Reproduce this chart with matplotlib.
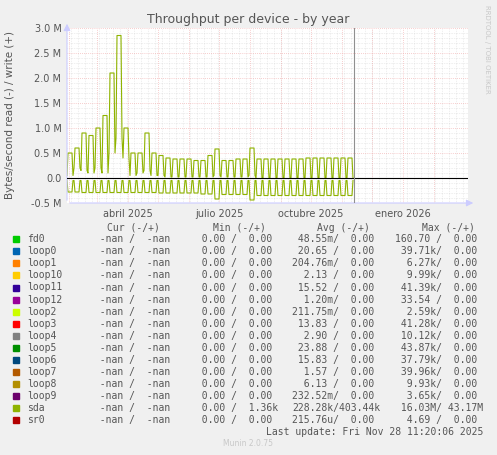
import datetime as dt
import matplotlib
matplotlib.use("Agg")
import matplotlib.pyplot as plt

# weekly sda write peaks / troughs and read troughs / peaks (M bytes/s), weeks from 2025-01-30
write_hi = [0.50, 0.60, 0.90, 0.85, 1.00, 1.25, 2.10, 2.85, 1.00, 0.50, 0.50, 0.90, 0.50, 0.45,
            0.40, 0.38, 0.38, 0.38, 0.35, 0.35, 0.45, 0.58, 0.35, 0.35, 0.38, 0.38, 0.60, 0.38,
            0.38, 0.38, 0.38, 0.38, 0.38, 0.38, 0.40, 0.40, 0.40, 0.40, 0.40, 0.40, 0.40]
write_lo = [0.05, 0.20, 0.15, 0.10, 0.20, 0.10, 0.50, 0.80, 0.40, 0.05, 0.10, 0.15, 0.05, 0.05,
            0.02, 0.02, 0.02, 0.02, 0.02, 0.02, 0.02, 0.05, 0.02, 0.02, 0.02, 0.02, 0.05, 0.00,
            0.00, 0.00, 0.00, 0.00, 0.00, 0.00, 0.00, 0.00, 0.00, 0.00, 0.00, 0.00, 0.00]
read_lo = [-0.28, -0.28, -0.29, -0.29, -0.29, -0.29, -0.29, -0.29, -0.29, -0.29, -0.29, -0.29,
           -0.29, -0.30, -0.30, -0.30, -0.30, -0.30, -0.30, -0.32, -0.32, -0.42, -0.33, -0.33,
           -0.33, -0.33, -0.44, -0.35, -0.35, -0.35, -0.35, -0.35, -0.35, -0.35, -0.35, -0.35,
           -0.35, -0.35, -0.35, -0.35, -0.35]
read_hi = [-0.05] * 41

start = dt.datetime(2025, 1, 30)
now = dt.datetime(2025, 11, 13)
x_min, x_max = dt.datetime(2025, 1, 30), dt.datetime(2026, 3, 7)
tick_dates = [dt.datetime(2025, 4, 1), dt.datetime(2025, 7, 1), dt.datetime(2025, 10, 1), dt.datetime(2026, 1, 1)]
tick_labels = ["abril 2025", "julio 2025", "octubre 2025", "enero 2026"]

legend_rows = [
    ("fd0", "#00cc00", "0.00", "0.00", "48.55m", "0.00", "160.70", "0.00"),
    ("loop0", "#0066b3", "0.00", "0.00", "20.65", "0.00", "39.71k", "0.00"),
    ("loop1", "#ff8000", "0.00", "0.00", "204.76m", "0.00", "6.27k", "0.00"),
    ("loop10", "#ffcc00", "0.00", "0.00", "2.13", "0.00", "9.99k", "0.00"),
    ("loop11", "#330099", "0.00", "0.00", "15.52", "0.00", "41.39k", "0.00"),
    ("loop12", "#990099", "0.00", "0.00", "1.20m", "0.00", "33.54", "0.00"),
    ("loop2", "#ccff00", "0.00", "0.00", "211.75m", "0.00", "2.59k", "0.00"),
    ("loop3", "#ff0000", "0.00", "0.00", "13.83", "0.00", "41.28k", "0.00"),
    ("loop4", "#808080", "0.00", "0.00", "2.90", "0.00", "10.12k", "0.00"),
    ("loop5", "#008f00", "0.00", "0.00", "23.88", "0.00", "43.87k", "0.00"),
    ("loop6", "#00487d", "0.00", "0.00", "15.83", "0.00", "37.79k", "0.00"),
    ("loop7", "#b35a00", "0.00", "0.00", "1.57", "0.00", "39.96k", "0.00"),
    ("loop8", "#b38f00", "0.00", "0.00", "6.13", "0.00", "9.93k", "0.00"),
    ("loop9", "#6b006b", "0.00", "0.00", "232.52m", "0.00", "3.65k", "0.00"),
    ("sda", "#8fb300", "0.00", "1.36k", "228.28k", "403.44k", "16.03M", "43.17M"),
    ("sr0", "#b30000", "0.00", "0.00", "215.76u", "0.00", "4.69", "0.00"),
]

# build square-ish weekly waves
xs, wy, ry = [], [], []
for i in range(len(write_hi)):
    d = start + dt.timedelta(days=7 * i)
    for off, w, r in [(0, write_lo[i], read_hi[i]), (1, write_hi[i], read_lo[i]),
                      (5, write_hi[i], read_lo[i]), (6, write_lo[i], read_hi[i])]:
        xs.append(d + dt.timedelta(days=off))
        wy.append(w * 1e6)
        ry.append(r * 1e6)

W, H = 497, 455
fig = plt.figure(figsize=(W / 100, H / 100), dpi=100, facecolor="#f0f0f0")
ax = fig.add_axes([67 / W, 1 - 203 / H, (468 - 67) / W, (203 - 28) / H], facecolor="white")

# grid
for m in range(2, 15):
    y, mo = 2025 + (m - 1) // 12, (m - 1) % 12 + 1
    ax.axvline(dt.datetime(y, mo, 1), color="#f0a0a0", lw=0.5, ls=(0, (1, 2)), zorder=1)
wk = dt.datetime(2025, 2, 3)
while wk < x_max:
    ax.axvline(wk, color="#d0d0d0", lw=0.4, ls=(0, (1, 2)), zorder=0)
    wk += dt.timedelta(days=7)
for v in [-0.4, -0.3, -0.2, -0.1, 0.1, 0.2, 0.3, 0.4, 0.6, 0.7, 0.8, 0.9, 1.1, 1.2, 1.3, 1.4,
          1.6, 1.7, 1.8, 1.9, 2.1, 2.2, 2.3, 2.4, 2.6, 2.7, 2.8, 2.9]:
    ax.axhline(v * 1e6, color="#d0d0d0", lw=0.4, ls=(0, (1, 2)), zorder=0)
for v in [-0.5, 0.5, 1.0, 1.5, 2.0, 2.5, 3.0]:
    ax.axhline(v * 1e6, color="#f0a0a0", lw=0.5, ls=(0, (1, 2)), zorder=1)

ax.plot(xs, wy, color="#8fb300", lw=0.8, zorder=3)
ax.plot(xs, ry, color="#8fb300", lw=0.8, zorder=3)
ax.axhline(0, color="black", lw=0.8, zorder=4)
ax.axvline(now, color="#909090", lw=0.8, zorder=4)

ax.set_xlim(x_min, x_max)
ax.set_ylim(-0.5e6, 3.0e6)
ax.set_yticks([-0.5e6, 0, 0.5e6, 1.0e6, 1.5e6, 2.0e6, 2.5e6, 3.0e6])
ax.set_yticklabels(["-0.5 M", "0.0", "0.5 M", "1.0 M", "1.5 M", "2.0 M", "2.5 M", "3.0 M"])
ax.set_xticks(tick_dates)
ax.set_xticklabels(tick_labels)
ax.tick_params(length=0, labelsize=7, colors="#555555", pad=4)
for s in ax.spines.values():
    s.set_visible(False)
ax.annotate("", xy=(1.02, 0), xycoords="axes fraction", xytext=(0, 0),
            arrowprops=dict(arrowstyle="-|>", color="#ccccff", lw=0.8))
ax.annotate("", xy=(0, 1.04), xycoords="axes fraction", xytext=(0, 0),
            arrowprops=dict(arrowstyle="-|>", color="#ccccff", lw=0.8))

fig.text(248 / W, 1 - 19 / H, "Throughput per device - by year", ha="center", va="center",
         fontsize=9, color="#555555")
fig.text(10 / W, 1 - 115 / H, "Bytes/second read (-) / write (+)", rotation=90,
         ha="center", va="center", fontsize=7.5, color="#555555")
fig.text(487 / W, 1 - 5 / H, "RRDTOOL / TOBI OETIKER", rotation=-90, ha="center", va="top",
         fontsize=5, color="#c8c8c8")

mono = dict(family="DejaVu Sans Mono", fontsize=7, color="#555555", va="center")
hy = 1 - 228 / H
for x, lab in [(133, "Cur (-/+)"), (239, "Min (-/+)"), (343, "Avg (-/+)"), (448, "Max (-/+)")]:
    fig.text(x / W, hy, lab, ha="center", **mono)


def fmt(v):
    return v if v[-1] in "kMmu" else v + " "


for i, (name, col, mn_r, mn_w, av_r, av_w, mx_r, mx_w) in enumerate(legend_rows):
    y = 1 - (239.3 + i * 12.05) / H
    fig.patches.append(plt.Rectangle((13 / W, y - 3 / H), 6 / W, 6 / H, color=col,
                                     transform=fig.transFigure))
    fig.text(27 / W, y, name, ha="left", **mono)
    for (l, r), end in [(("-nan", "-nan"), 176), ((mn_r, mn_w), 278),
                        ((av_r, av_w), 380), ((mx_r, mx_w), 483)]:
        fig.text(end / W, y, f"{fmt(l):>7}/{fmt(r):>7}", ha="right", **mono)

fig.text(483 / W, 1 - 432 / H, "Last update: Fri Nov 28 11:20:06 2025", ha="right", **mono)
fig.text(248 / W, 1 - 444 / H, "Munin 2.0.75", ha="center", va="center", fontsize=5.5,
         color="#c8c8c8")

fig.savefig("out.png", dpi=100, facecolor=fig.get_facecolor())
